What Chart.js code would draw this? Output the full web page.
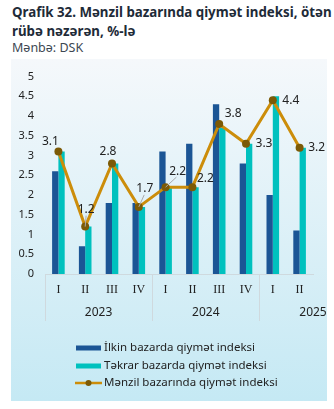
<!DOCTYPE html>
<html><head><meta charset="utf-8">
<script src="https://cdn.jsdelivr.net/npm/chart.js@4/dist/chart.umd.min.js"></script>
<style>
html,body{margin:0;padding:0;background:#fff;}
body{width:334px;height:409px;position:relative;overflow:hidden;font-family:"Noto Sans",sans-serif;}
.title{position:absolute;left:12px;top:3px;width:322px;font-weight:bold;font-size:13.3px;line-height:19px;color:#1e2b38;white-space:nowrap;}
.source{position:absolute;left:12px;top:40px;font-size:12.5px;line-height:16px;color:#3c4752;}
.panel{position:absolute;left:11px;top:59px;width:316px;height:342px;background:linear-gradient(#f5f8fb,#c5e9f4);}
canvas{display:block;}
</style></head><body>
<div class="title">Qrafik 32. Mənzil bazarında qiymət indeksi, ötən<br>rübə nəzərən, %-lə</div>
<div class="source">Mənbə: DSK</div>
<div class="panel"><canvas id="c" width="316" height="342"></canvas></div>
<script>
// Quarterly price indices, % change on previous quarter
const quarters = ['I', 'II', 'III', 'IV', 'I', 'II', 'III', 'IV', 'I', 'II'];
const years = ['2023', '2024', '2025'];
const yearStart = [0, 4, 8];
const primaryMarket = [2.6, 0.7, 1.8, 1.8, 3.1, 3.3, 4.3, 2.8, 2.0, 1.1];
const secondaryMarket = [3.1, 1.2, 2.8, 1.7, 2.2, 2.2, 3.7, 3.3, 4.5, 3.2];
const housingMarket = [3.1, 1.2, 2.8, 1.7, 2.2, 2.2, 3.8, 3.3, 4.4, 3.2];
const seriesNames = ['İlkin bazarda qiymət indeksi', 'Təkrar bazarda qiymət indeksi', 'Mənzil bazarında qiymət indeksi'];
const yTicks = [0, 0.5, 1, 1.5, 2, 2.5, 3, 3.5, 4, 4.5, 5];

const DARK = '#1b5595', TEAL = '#00c1be', GOLD = '#cc8d0a', DOT = '#7c5a06', TEXT = '#222';

// value labels on the line: offset from the point and whether a leader line is drawn
const labelPlacement = [
  {dx: -8, dy: -10}, {dx: 1, dy: -17, lead: true}, {dx: -4, dy: -12}, {dx: 6, dy: -18, lead: true},
  {dx: 12, dy: -16, lead: true}, {dx: 13, dy: -9}, {dx: 14, dy: -10}, {dx: 18, dy: 0},
  {dx: 18, dy: 0}, {dx: 17, dy: 0}
];

const decorations = {
  id: 'decorations',
  afterDatasetsDraw(chart) {
    const ctx = chart.ctx;
    const meta = chart.getDatasetMeta(0);
    ctx.save();
    ctx.font = '12px "Noto Sans"';
    ctx.textAlign = 'center';
    ctx.textBaseline = 'middle';
    meta.data.forEach((pt, i) => {
      const p = labelPlacement[i];
      const lx = pt.x + p.dx, ly = pt.y + p.dy;
      if (p.lead) {
        ctx.strokeStyle = '#a9a9a9';
        ctx.lineWidth = 1;
        ctx.beginPath();
        ctx.moveTo(pt.x, pt.y);
        ctx.lineTo(lx - p.dx * 0.1, ly + 6);
        ctx.stroke();
      }
      ctx.fillStyle = TEXT;
      ctx.fillText(String(housingMarket[i]), lx, ly);
    });
    ctx.restore();
  },
  afterDraw(chart) {
    const ctx = chart.ctx;
    const x = chart.scales.x, area = chart.chartArea;
    const cw = x.getPixelForValue(1) - x.getPixelForValue(0);
    ctx.save();
    // year groups: separators and labels
    ctx.strokeStyle = '#cfd9de';
    ctx.lineWidth = 1;
    ctx.font = '12px "Noto Sans"';
    ctx.fillStyle = TEXT;
    ctx.textAlign = 'center';
    ctx.textBaseline = 'middle';
    years.forEach((yr, k) => {
      const left = x.getPixelForValue(yearStart[k]) - cw / 2;
      const sx = Math.round(left) + 0.5;
      ctx.beginPath();
      ctx.moveTo(sx, area.bottom);
      ctx.lineTo(sx, area.bottom + 47);
      ctx.stroke();
      ctx.fillText(yr, left + cw * 2, area.bottom + 39);
    });
    // legend
    ctx.textAlign = 'left';
    ctx.font = '11.5px "Noto Sans"';
    const lx = 65, tx = 93;
    const rows = [289, 307, 324];
    ctx.fillStyle = DARK;
    ctx.fillRect(lx, rows[0] - 2.5, 25, 5);
    ctx.fillStyle = TEAL;
    ctx.fillRect(lx, rows[1] - 2.5, 25, 5);
    ctx.strokeStyle = GOLD;
    ctx.lineWidth = 2.5;
    ctx.beginPath();
    ctx.moveTo(lx - 1, rows[2]);
    ctx.lineTo(lx + 26, rows[2]);
    ctx.stroke();
    ctx.fillStyle = DOT;
    ctx.beginPath();
    ctx.arc(lx + 12.5, rows[2], 3, 0, Math.PI * 2);
    ctx.fill();
    ctx.fillStyle = TEXT;
    seriesNames.forEach((n, i) => ctx.fillText(n, tx, rows[i]));
    ctx.restore();
  }
};

new Chart(document.getElementById('c'), {
  data: {
    labels: quarters,
    datasets: [
      {type: 'line', label: seriesNames[2], data: housingMarket, borderColor: GOLD, borderWidth: 3,
       pointRadius: 4, pointBackgroundColor: DOT, pointBorderColor: DOT, pointBorderWidth: 0, tension: 0, order: 0},
      {type: 'bar', label: seriesNames[0], data: primaryMarket, backgroundColor: DARK, order: 1,
       categoryPercentage: 0.47, barPercentage: 1},
      {type: 'bar', label: seriesNames[1], data: secondaryMarket, backgroundColor: TEAL, order: 1,
       categoryPercentage: 0.47, barPercentage: 1}
    ]
  },
  options: {
    responsive: false,
    animation: false,
    events: [],
    layout: {padding: {top: 14, right: 14, left: 0, bottom: 0}},
    plugins: {legend: {display: false}, tooltip: {enabled: false}, title: {display: false}},
    scales: {
      x: {
        grid: {display: false, drawTicks: false},
        border: {display: true, color: '#cfd9de', width: 1},
        ticks: {font: {family: '"Liberation Serif"', size: 12}, color: TEXT, padding: 9, maxRotation: 0, autoSkip: false},
        afterFit(s) { s.height = 127; }
      },
      y: {
        min: 0, max: 5,
        grid: {display: false, drawTicks: false},
        border: {display: false},
        afterBuildTicks(s) { s.ticks = yTicks.map(v => ({value: v})); },
        ticks: {font: {family: '"Noto Sans"', size: 11}, color: TEXT, padding: 11, callback: v => String(v)},
        afterFit(s) { s.width = 34; }
      }
    }
  },
  plugins: [decorations]
});
</script>
</body></html>
